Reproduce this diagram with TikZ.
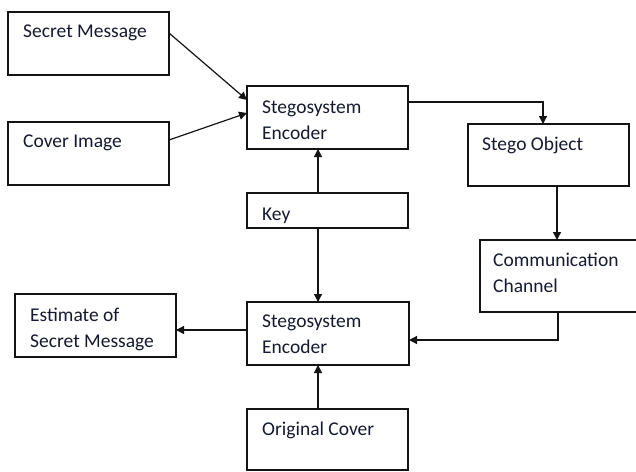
\documentclass[tikz,border=0pt]{standalone}
\usepackage{fontspec}
\setmainfont{Carlito}
\usetikzlibrary{arrows.meta,calc}
\definecolor{txt}{RGB}{22,26,48}
\definecolor{ln}{RGB}{20,20,20}
\begin{document}
\begin{tikzpicture}[x=1pt,y=-1pt,
  box/.style={draw=ln,line width=1.2pt,rectangle,inner sep=0pt,outer sep=0pt,anchor=north west},
  lbl/.style={text=txt,font=\fontsize{19.5}{26}\selectfont,inner sep=0pt,anchor=base west,align=left},
  conn/.style={draw=ln,line width=1.2pt,-{Triangle[length=8pt,width=8pt]}}]
\useasboundingbox[fill=white] (0,0) rectangle (636,471);
\begin{scope}
\clip (0,0) rectangle (636,471);
% boxes
\node[box,minimum width=161pt,minimum height=63pt] (sm) at (8,12) {};
\node[box,minimum width=161pt,minimum height=63pt] (ci) at (8,122) {};
\node[box,minimum width=161pt,minimum height=63pt] (enc) at (247,86) {};
\node[box,minimum width=161pt,minimum height=35pt] (key) at (247,193) {};
\node[box,minimum width=161pt,minimum height=62pt] (so) at (468,124) {};
\node[box,minimum width=170pt,minimum height=72pt] (cc) at (480,240) {};
\node[box,minimum width=162pt,minimum height=63pt] (dec) at (247,302) {};
\node[box,minimum width=161pt,minimum height=63pt] (est) at (15,294) {};
\node[box,minimum width=161pt,minimum height=61pt] (oc) at (247,409) {};
% labels (base anchor = baseline of last line)
\node[lbl] (smt) at (23,37) {Secret Message};
\node[lbl] (cit) at (23,147) {Cover Image};
\node[lbl] (enct) at (262,139) {Stegosystem\\Encoder};
\node[lbl] (keyt) at (262,220) {Key};
\node[lbl] (sot) at (482,150) {Stego Object};
\node[lbl] (cct) at (493,292) {Communication\\Channel};
\node[lbl] (dect) at (262,353) {Stegosystem\\Encoder};
\node[lbl] (estt) at (30,347) {Estimate of\\Secret Message};
\node[lbl] (oct) at (262,435) {Original Cover};
% connectors
\draw[conn] ($(sm.north east)+(0,21)$) -- ($(enc.north west)+(0,14)$);
\draw[conn] ($(ci.north east)+(0,18)$) -- ($(enc.north west)+(0,27)$);
\draw[conn] ($(key.north west)+(71,0)$) -- ($(enc.south west)+(71,0)$);
\draw[conn] ($(key.south west)+(71,0)$) -- ($(dec.north west)+(71,0)$);
\draw[conn] ($(enc.north east)+(0,16)$) -| ($(so.north west)+(75,0)$);
\draw[conn] ($(so.south west)+(89,0)$) -- ($(cc.north west)+(77,0)$);
\draw[conn] ($(cc.south west)+(78,0)$) |- ($(dec.north east)+(0,38)$);
\draw[conn] ($(dec.north west)+(0,28)$) -- ($(est.north east)+(0,36)$);
\draw[conn] ($(oc.north west)+(71,0)$) -- ($(dec.south west)+(71,0)$);
\end{scope}
\end{tikzpicture}
\end{document}
